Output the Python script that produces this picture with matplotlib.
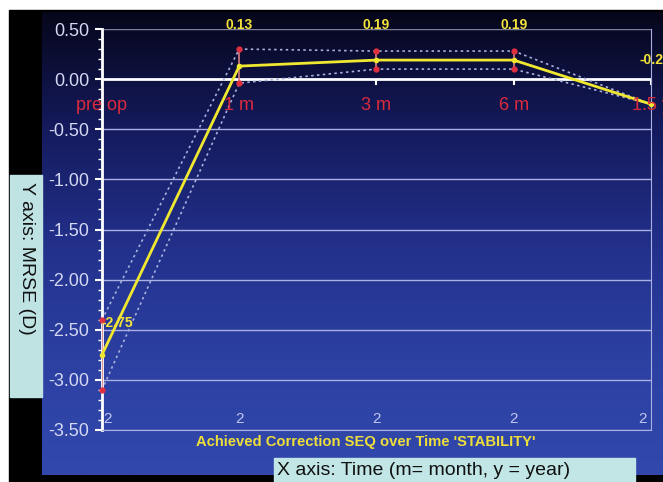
import numpy as np
import matplotlib.pyplot as plt
from matplotlib.colors import LinearSegmentedColormap
from matplotlib.patches import Rectangle

plt.rcParams['font.family'] = ['Liberation Sans', 'DejaVu Sans']

# data
categories = ['pre op', '1 m', '3 m', '6 m', '1.5 y']
mean_seq = [-2.75, 0.13, 0.19, 0.19, -0.25]
upper_seq = [-2.40, 0.30, 0.28, 0.28, -0.25]
lower_seq = [-3.10, -0.04, 0.10, 0.10, -0.25]
n_eyes = [2, 2, 2, 2, 2]
value_labels = ['-2.75', '0.13', '0.19', '0.19', '-0.25']

# where the yellow value labels sit (layout only)
label_dx = [0.11, 0.0, 0.0, 0.0, 0.03]
label_y = [-2.43, 0.54, 0.54, 0.54, 0.19]

fig = plt.figure(figsize=(6.63, 4.82), dpi=100, facecolor='white')

# black frame + blue gradient panel
fig.patches.append(Rectangle((0.0136, 0), 0.99, 0.979, transform=fig.transFigure,
                             color='black', zorder=-3))
bg = fig.add_axes([0.0633, 0.0145, 0.9367, 0.9606], zorder=-2)
cmap = LinearSegmentedColormap.from_list(
    'bg', ['#06061a', '#141a5c', '#22308a', '#2c40a2', '#3248ac'])
bg.imshow(np.linspace(0, 1, 256).reshape(-1, 1), aspect='auto', cmap=cmap,
          extent=[0, 1, 0, 1])
bg.axis('off')

ax = fig.add_axes([0.1538, 0.1079, 0.8281, 0.8319])
ax.set_facecolor('none')
x = np.arange(len(categories))

# grid
grid_c = '#aab0e4'
for yv in np.arange(-3.5, 0.51, 0.5):
    if abs(yv) < 1e-9:
        continue
    c = '#7f809a' if yv > 0.4 else grid_c
    ax.axhline(yv, color=c, lw=1.0, zorder=1)
ax.axhline(0, color='white', lw=2.0, zorder=2)
ax.vlines(x, -0.06, 0, color='white', lw=1.5, zorder=2, clip_on=False)

# envelopes
ax.plot(x, upper_seq, color='#a8b0dc', lw=1.2, ls=(0, (1.5, 2)), zorder=3, clip_on=False)
ax.plot(x, lower_seq, color='#a8b0dc', lw=1.2, ls=(0, (1.5, 2)), zorder=3, clip_on=False)

# error bars
ax.vlines(x[:4], lower_seq[:4], upper_seq[:4], color='#d98080', lw=1.2, zorder=4)
ax.plot(x[:4], upper_seq[:4], 'o', color='#e03040', ms=3.5, zorder=5, clip_on=False)
ax.plot(x[:4], lower_seq[:4], 'o', color='#e03040', ms=3.5, zorder=5, clip_on=False)

# mean line
ax.plot(x, mean_seq, color='#f0e830', lw=2.0, marker='o', ms=3, zorder=6, clip_on=False)

for i, lab in enumerate(value_labels):
    ax.text(x[i] + label_dx[i], label_y[i], lab, color='#f2e23a', fontsize=10,
            fontweight='bold', ha='center', va='center', zorder=7, clip_on=False)

for i, cat in enumerate(categories):
    ax.text(x[i], -0.26, cat, color='#dc2a3c', fontsize=13, ha='center',
            va='center', zorder=7, clip_on=False)

for i, n in enumerate(n_eyes):
    ha = 'left' if i == 0 else ('right' if i == len(n_eyes) - 1 else 'center')
    dx = 0.01 if i == 0 else (-0.03 if i == len(n_eyes) - 1 else 0.0)
    ax.text(x[i] + dx, -3.39, str(n), color='#c0c6f0', fontsize=11, ha=ha,
            va='center', zorder=7)

ax.set_xlim(0, 4)
ax.set_ylim(-3.5, 0.5)
ax.set_yticks(np.arange(-3.5, 0.51, 0.5))
ax.set_yticklabels([f'{v:.2f}' for v in np.arange(-3.5, 0.51, 0.5)])
ax.set_yticks(np.arange(-3.5, 0.51, 0.1), minor=True)
ax.set_xticks([])
ax.tick_params(axis='y', which='major', colors='white', length=5, width=1.5,
               labelsize=13, labelcolor='#d4d8f2', pad=4)
ax.tick_params(axis='y', which='minor', colors='white', length=3, width=1)
ax.spines['left'].set_color('white')
ax.spines['left'].set_linewidth(2)
ax.spines['top'].set_visible(False)
ax.spines['right'].set_color(grid_c)
ax.spines['bottom'].set_color(grid_c)

# caption
fig.text(0.552, 0.083, "Achieved Correction SEQ over Time 'STABILITY'",
         color='#eede3a', fontsize=10.6, fontweight='bold', ha='center', va='center')

# axis title boxes
fig.patches.append(Rectangle((0.0151, 0.1763), 0.0483, 0.4606, transform=fig.transFigure,
                             color='#bfe3e3', zorder=5))
fig.text(0.0393, 0.463, 'Y axis: MRSE (D)', rotation=270, fontsize=14,
         ha='center', va='center', color='#111111', zorder=6)
fig.patches.append(Rectangle((0.4133, 0), 0.5445, 0.0498, transform=fig.transFigure,
                             color='#c2e6e6', zorder=5))
fig.text(0.418, 0.024, 'X axis: Time (m= month, y = year)', fontsize=14,
         ha='left', va='center', color='#111111', zorder=6)

fig.savefig('out.png', dpi=100)
